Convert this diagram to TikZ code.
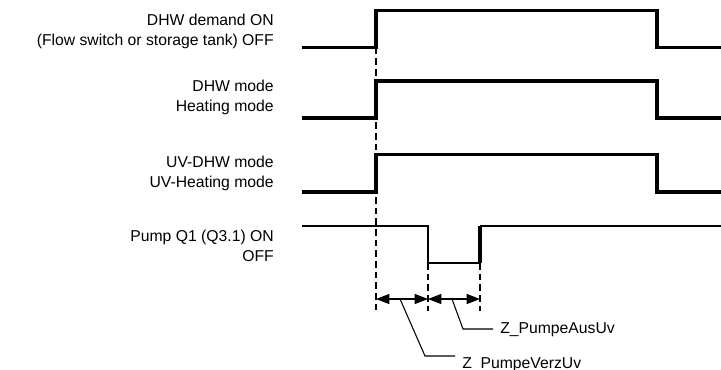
\documentclass[tikz,border=0pt]{standalone}
\usepackage{fontspec}
\setmainfont{Liberation Sans}
\usetikzlibrary{arrows.meta}
\begin{document}
\begin{tikzpicture}[x=0.75pt,y=-0.75pt,
  sig/.style={line width=2.6pt},
  pumpsig/.style={line width=1.5pt},
  guide/.style={line width=0.8pt, dash pattern=on 5pt off 3pt},
  dim/.style={line width=0.8pt, {Triangle[length=10pt,width=7.5pt]}-{Triangle[length=10pt,width=7.5pt]}},
  lbl/.style={align=right, anchor=east, inner sep=0pt, font=\fontsize{11.8}{15}\selectfont},
  tag/.style={anchor=base west, inner xsep=5.25pt, inner ysep=0pt, font=\fontsize{11.8}{15}\selectfont}]
\useasboundingbox (0,0) rectangle (721,369);

% Signal names
\node[lbl] (demand) at (274,31) {DHW demand ON\\(Flow switch or storage tank) OFF};
\node[lbl] (mode) at (274,97.5) {DHW mode\\Heating mode};
\node[lbl] (uvmode) at (274,173.5) {UV-DHW mode\\UV-Heating mode};
\node[lbl] (pump) at (274,245.5) {Pump Q1 (Q3.1) ON\\OFF};

% Signals
\draw[sig] (302,47.5) -- (376,47.5) -- (376,10.5) -- (657,10.5) -- (657,47.5) -- (721,47.5);
\draw[sig] (302,118) -- (376,118) -- (376,81) -- (657,81) -- (657,118) -- (721,118);
\draw[sig] (302,192) -- (376,192) -- (376,154.5) -- (657,154.5) -- (657,192) -- (721,192);
\draw[pumpsig] (302,226) -- (428,226) -- (428,263) -- (480,263);
\draw[sig] (480,263) -- (480,226);
\draw[pumpsig] (480,226) -- (721,226);

% Time marks
\coordinate (t0) at (376,299);
\coordinate (t1) at (428,299);
\coordinate (t2) at (480,299);
\draw[guide] (376,47.5) -- (376,311);
\draw[guide] (428,263) -- (428,311);
\draw[guide] (480,263) -- (480,311);
\draw[dim] (t0) -- (t1);
\draw[dim] (t1) -- (t2);

% Delay labels
\node[tag] (aus) at (493,333) {Z\_PumpeAusUv};
\node[tag] (verz) at (455,368) {Z\_PumpeVerzUv};
\coordinate (ausknee) at (463,329);
\coordinate (verzknee) at (425,356);
\draw[line width=0.8pt] (452,299) -- (ausknee) -- (ausknee -| aus.west);
\draw[line width=0.8pt] (400,299) -- (verzknee) -- (verzknee -| verz.west);

\end{tikzpicture}
\end{document}
